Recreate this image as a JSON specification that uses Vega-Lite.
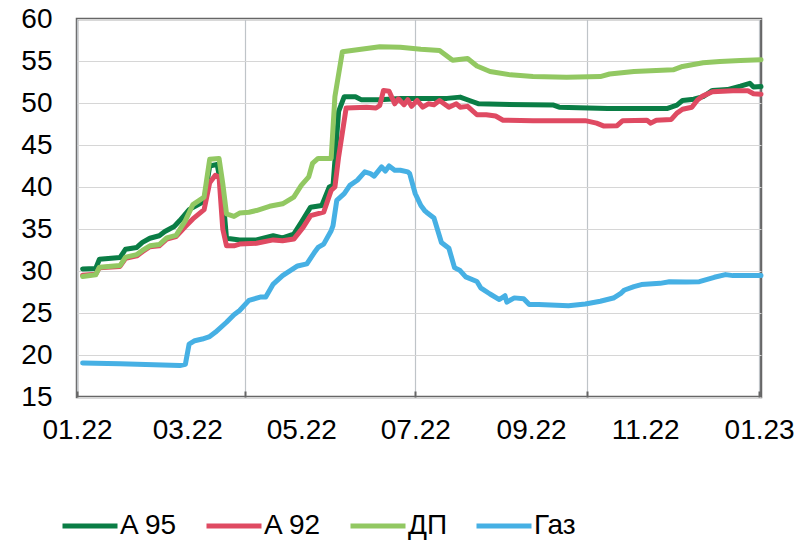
{
  "$schema": "https://vega.github.io/schema/vega-lite/v6.json",
  "autosize": "none",
  "width": 684,
  "height": 378,
  "padding": {"left": 77, "top": 19, "right": 50, "bottom": 143},
  "background": "white",
  "config": {
    "view": {"stroke": "#666666", "strokeWidth": 2.5},
    "font": "Liberation Sans",
    "axis": {"labelFont": "Liberation Sans", "labelFontSize": 28, "labelColor": "#000000", "domain": false, "title": null}
  },
  "data": {"values": [
    {"d":"2022-01-04","s":"A 95","v":30.25},{"d":"2022-01-11","s":"A 95","v":30.3},{"d":"2022-01-13","s":"A 95","v":31.4},{"d":"2022-01-24","s":"A 95","v":31.6},{"d":"2022-01-27","s":"A 95","v":32.6},{"d":"2022-02-02","s":"A 95","v":32.8},{"d":"2022-02-05","s":"A 95","v":33.4},{"d":"2022-02-09","s":"A 95","v":33.9},{"d":"2022-02-14","s":"A 95","v":34.2},{"d":"2022-02-17","s":"A 95","v":34.7},{"d":"2022-02-22","s":"A 95","v":35.3},{"d":"2022-02-25","s":"A 95","v":36.0},{"d":"2022-03-02","s":"A 95","v":37.3},{"d":"2022-03-10","s":"A 95","v":38.3},{"d":"2022-03-13","s":"A 95","v":42.5},{"d":"2022-03-17","s":"A 95","v":42.7},{"d":"2022-03-20","s":"A 95","v":39.0},{"d":"2022-03-22","s":"A 95","v":33.9},{"d":"2022-03-29","s":"A 95","v":33.7},{"d":"2022-04-07","s":"A 95","v":33.7},{"d":"2022-04-16","s":"A 95","v":34.2},{"d":"2022-04-21","s":"A 95","v":33.95},{"d":"2022-04-27","s":"A 95","v":34.4},{"d":"2022-05-01","s":"A 95","v":35.8},{"d":"2022-05-06","s":"A 95","v":37.6},{"d":"2022-05-12","s":"A 95","v":37.8},{"d":"2022-05-16","s":"A 95","v":40.0},{"d":"2022-05-18","s":"A 95","v":40.2},{"d":"2022-05-21","s":"A 95","v":49.0},{"d":"2022-05-24","s":"A 95","v":50.75},{"d":"2022-05-30","s":"A 95","v":50.75},{"d":"2022-06-02","s":"A 95","v":50.4},{"d":"2022-06-12","s":"A 95","v":50.4},{"d":"2022-06-23","s":"A 95","v":50.55},{"d":"2022-07-18","s":"A 95","v":50.55},{"d":"2022-07-25","s":"A 95","v":50.7},{"d":"2022-07-30","s":"A 95","v":50.3},{"d":"2022-08-04","s":"A 95","v":49.9},{"d":"2022-08-15","s":"A 95","v":49.85},{"d":"2022-09-13","s":"A 95","v":49.75},{"d":"2022-09-16","s":"A 95","v":49.5},{"d":"2022-10-12","s":"A 95","v":49.35},{"d":"2022-11-13","s":"A 95","v":49.35},{"d":"2022-11-18","s":"A 95","v":49.75},{"d":"2022-11-21","s":"A 95","v":50.3},{"d":"2022-11-27","s":"A 95","v":50.45},{"d":"2022-12-02","s":"A 95","v":50.75},{"d":"2022-12-07","s":"A 95","v":51.5},{"d":"2022-12-15","s":"A 95","v":51.6},{"d":"2022-12-22","s":"A 95","v":52.0},{"d":"2022-12-27","s":"A 95","v":52.35},{"d":"2022-12-29","s":"A 95","v":51.9},{"d":"2023-01-02","s":"A 95","v":51.95},
    {"d":"2022-01-04","s":"A 92","v":29.5},{"d":"2022-01-11","s":"A 92","v":29.6},{"d":"2022-01-13","s":"A 92","v":30.4},{"d":"2022-01-24","s":"A 92","v":30.55},{"d":"2022-01-27","s":"A 92","v":31.5},{"d":"2022-02-02","s":"A 92","v":31.8},{"d":"2022-02-05","s":"A 92","v":32.3},{"d":"2022-02-09","s":"A 92","v":32.9},{"d":"2022-02-14","s":"A 92","v":33.0},{"d":"2022-02-18","s":"A 92","v":33.8},{"d":"2022-02-23","s":"A 92","v":34.1},{"d":"2022-02-28","s":"A 92","v":35.3},{"d":"2022-03-04","s":"A 92","v":36.2},{"d":"2022-03-10","s":"A 92","v":37.3},{"d":"2022-03-13","s":"A 92","v":40.5},{"d":"2022-03-16","s":"A 92","v":41.4},{"d":"2022-03-18","s":"A 92","v":41.2},{"d":"2022-03-20","s":"A 92","v":35.0},{"d":"2022-03-22","s":"A 92","v":33.0},{"d":"2022-03-26","s":"A 92","v":33.0},{"d":"2022-03-29","s":"A 92","v":33.2},{"d":"2022-04-07","s":"A 92","v":33.3},{"d":"2022-04-16","s":"A 92","v":33.7},{"d":"2022-04-21","s":"A 92","v":33.6},{"d":"2022-04-27","s":"A 92","v":33.8},{"d":"2022-05-02","s":"A 92","v":35.2},{"d":"2022-05-06","s":"A 92","v":36.6},{"d":"2022-05-13","s":"A 92","v":37.0},{"d":"2022-05-17","s":"A 92","v":39.6},{"d":"2022-05-19","s":"A 92","v":40.0},{"d":"2022-05-21","s":"A 92","v":43.6},{"d":"2022-05-25","s":"A 92","v":49.4},{"d":"2022-06-05","s":"A 92","v":49.5},{"d":"2022-06-10","s":"A 92","v":49.4},{"d":"2022-06-12","s":"A 92","v":49.7},{"d":"2022-06-14","s":"A 92","v":51.5},{"d":"2022-06-17","s":"A 92","v":51.4},{"d":"2022-06-20","s":"A 92","v":49.9},{"d":"2022-06-22","s":"A 92","v":50.5},{"d":"2022-06-25","s":"A 92","v":49.8},{"d":"2022-06-27","s":"A 92","v":50.4},{"d":"2022-06-29","s":"A 92","v":49.6},{"d":"2022-07-02","s":"A 92","v":50.3},{"d":"2022-07-05","s":"A 92","v":49.5},{"d":"2022-07-08","s":"A 92","v":49.9},{"d":"2022-07-11","s":"A 92","v":49.8},{"d":"2022-07-14","s":"A 92","v":50.3},{"d":"2022-07-19","s":"A 92","v":49.5},{"d":"2022-07-23","s":"A 92","v":49.9},{"d":"2022-07-25","s":"A 92","v":49.5},{"d":"2022-07-29","s":"A 92","v":49.6},{"d":"2022-08-03","s":"A 92","v":48.6},{"d":"2022-08-08","s":"A 92","v":48.6},{"d":"2022-08-13","s":"A 92","v":48.45},{"d":"2022-08-17","s":"A 92","v":47.95},{"d":"2022-09-02","s":"A 92","v":47.9},{"d":"2022-09-30","s":"A 92","v":47.9},{"d":"2022-10-06","s":"A 92","v":47.6},{"d":"2022-10-10","s":"A 92","v":47.25},{"d":"2022-10-17","s":"A 92","v":47.3},{"d":"2022-10-20","s":"A 92","v":47.9},{"d":"2022-11-02","s":"A 92","v":47.95},{"d":"2022-11-04","s":"A 92","v":47.6},{"d":"2022-11-07","s":"A 92","v":47.95},{"d":"2022-11-15","s":"A 92","v":48.05},{"d":"2022-11-18","s":"A 92","v":48.8},{"d":"2022-11-21","s":"A 92","v":49.25},{"d":"2022-11-26","s":"A 92","v":49.5},{"d":"2022-11-29","s":"A 92","v":50.35},{"d":"2022-12-02","s":"A 92","v":50.85},{"d":"2022-12-07","s":"A 92","v":51.35},{"d":"2022-12-18","s":"A 92","v":51.45},{"d":"2022-12-26","s":"A 92","v":51.45},{"d":"2022-12-29","s":"A 92","v":51.1},{"d":"2023-01-02","s":"A 92","v":51.05},
    {"d":"2022-01-04","s":"ДП","v":29.35},{"d":"2022-01-11","s":"ДП","v":29.55},{"d":"2022-01-13","s":"ДП","v":30.45},{"d":"2022-01-24","s":"ДП","v":30.65},{"d":"2022-01-27","s":"ДП","v":31.65},{"d":"2022-02-02","s":"ДП","v":31.95},{"d":"2022-02-05","s":"ДП","v":32.45},{"d":"2022-02-09","s":"ДП","v":33.0},{"d":"2022-02-14","s":"ДП","v":33.15},{"d":"2022-02-18","s":"ДП","v":33.95},{"d":"2022-02-23","s":"ДП","v":34.25},{"d":"2022-02-28","s":"ДП","v":36.0},{"d":"2022-03-04","s":"ДП","v":37.9},{"d":"2022-03-10","s":"ДП","v":38.8},{"d":"2022-03-13","s":"ДП","v":43.3},{"d":"2022-03-18","s":"ДП","v":43.4},{"d":"2022-03-20","s":"ДП","v":40.4},{"d":"2022-03-22","s":"ДП","v":36.8},{"d":"2022-03-26","s":"ДП","v":36.5},{"d":"2022-03-29","s":"ДП","v":36.9},{"d":"2022-04-03","s":"ДП","v":37.0},{"d":"2022-04-07","s":"ДП","v":37.2},{"d":"2022-04-14","s":"ДП","v":37.7},{"d":"2022-04-21","s":"ДП","v":38.0},{"d":"2022-04-27","s":"ДП","v":38.8},{"d":"2022-05-01","s":"ДП","v":40.2},{"d":"2022-05-05","s":"ДП","v":41.2},{"d":"2022-05-07","s":"ДП","v":42.8},{"d":"2022-05-10","s":"ДП","v":43.4},{"d":"2022-05-17","s":"ДП","v":43.4},{"d":"2022-05-19","s":"ДП","v":50.75},{"d":"2022-05-23","s":"ДП","v":56.1},{"d":"2022-06-02","s":"ДП","v":56.4},{"d":"2022-06-12","s":"ДП","v":56.7},{"d":"2022-06-23","s":"ДП","v":56.65},{"d":"2022-07-04","s":"ДП","v":56.4},{"d":"2022-07-14","s":"ДП","v":56.25},{"d":"2022-07-21","s":"ДП","v":55.1},{"d":"2022-07-29","s":"ДП","v":55.3},{"d":"2022-08-03","s":"ДП","v":54.4},{"d":"2022-08-10","s":"ДП","v":53.75},{"d":"2022-08-21","s":"ДП","v":53.35},{"d":"2022-09-02","s":"ДП","v":53.15},{"d":"2022-09-20","s":"ДП","v":53.07},{"d":"2022-10-08","s":"ДП","v":53.15},{"d":"2022-10-13","s":"ДП","v":53.45},{"d":"2022-10-26","s":"ДП","v":53.75},{"d":"2022-11-16","s":"ДП","v":53.95},{"d":"2022-11-21","s":"ДП","v":54.35},{"d":"2022-12-02","s":"ДП","v":54.8},{"d":"2022-12-11","s":"ДП","v":54.95},{"d":"2022-12-22","s":"ДП","v":55.05},{"d":"2023-01-02","s":"ДП","v":55.15},
    {"d":"2022-01-04","s":"Газ","v":19.05},{"d":"2022-01-24","s":"Газ","v":18.95},{"d":"2022-02-25","s":"Газ","v":18.75},{"d":"2022-02-28","s":"Газ","v":18.9},{"d":"2022-03-02","s":"Газ","v":21.3},{"d":"2022-03-05","s":"Газ","v":21.7},{"d":"2022-03-09","s":"Газ","v":21.9},{"d":"2022-03-13","s":"Газ","v":22.2},{"d":"2022-03-16","s":"Газ","v":22.7},{"d":"2022-03-22","s":"Газ","v":23.9},{"d":"2022-03-26","s":"Газ","v":24.8},{"d":"2022-03-29","s":"Газ","v":25.3},{"d":"2022-04-03","s":"Газ","v":26.5},{"d":"2022-04-09","s":"Газ","v":26.9},{"d":"2022-04-12","s":"Газ","v":26.9},{"d":"2022-04-16","s":"Газ","v":28.45},{"d":"2022-04-21","s":"Газ","v":29.45},{"d":"2022-04-29","s":"Газ","v":30.6},{"d":"2022-05-04","s":"Газ","v":30.85},{"d":"2022-05-08","s":"Газ","v":32.2},{"d":"2022-05-10","s":"Газ","v":32.8},{"d":"2022-05-13","s":"Газ","v":33.2},{"d":"2022-05-17","s":"Газ","v":34.8},{"d":"2022-05-18","s":"Газ","v":35.4},{"d":"2022-05-20","s":"Газ","v":38.4},{"d":"2022-05-24","s":"Газ","v":39.2},{"d":"2022-05-27","s":"Газ","v":40.2},{"d":"2022-05-31","s":"Газ","v":40.8},{"d":"2022-06-04","s":"Газ","v":41.8},{"d":"2022-06-07","s":"Газ","v":41.6},{"d":"2022-06-09","s":"Газ","v":41.3},{"d":"2022-06-13","s":"Газ","v":42.4},{"d":"2022-06-15","s":"Газ","v":41.9},{"d":"2022-06-17","s":"Газ","v":42.5},{"d":"2022-06-20","s":"Газ","v":42.0},{"d":"2022-06-23","s":"Газ","v":42.0},{"d":"2022-06-27","s":"Газ","v":41.8},{"d":"2022-06-28","s":"Газ","v":41.6},{"d":"2022-07-01","s":"Газ","v":39.2},{"d":"2022-07-04","s":"Газ","v":37.8},{"d":"2022-07-06","s":"Газ","v":37.2},{"d":"2022-07-07","s":"Газ","v":37.0},{"d":"2022-07-11","s":"Газ","v":36.3},{"d":"2022-07-15","s":"Газ","v":33.4},{"d":"2022-07-19","s":"Газ","v":32.7},{"d":"2022-07-22","s":"Газ","v":30.4},{"d":"2022-07-25","s":"Газ","v":30.05},{"d":"2022-07-28","s":"Газ","v":29.3},{"d":"2022-08-03","s":"Газ","v":28.75},{"d":"2022-08-05","s":"Газ","v":28.0},{"d":"2022-08-10","s":"Газ","v":27.26},{"d":"2022-08-15","s":"Газ","v":26.6},{"d":"2022-08-18","s":"Газ","v":27.06},{"d":"2022-08-19","s":"Газ","v":26.3},{"d":"2022-08-23","s":"Газ","v":26.8},{"d":"2022-08-28","s":"Газ","v":26.7},{"d":"2022-08-31","s":"Газ","v":26.0},{"d":"2022-09-05","s":"Газ","v":26.0},{"d":"2022-09-21","s":"Газ","v":25.87},{"d":"2022-09-30","s":"Газ","v":26.07},{"d":"2022-10-08","s":"Газ","v":26.4},{"d":"2022-10-15","s":"Газ","v":26.78},{"d":"2022-10-19","s":"Газ","v":27.34},{"d":"2022-10-21","s":"Газ","v":27.74},{"d":"2022-10-26","s":"Газ","v":28.14},{"d":"2022-10-30","s":"Газ","v":28.38},{"d":"2022-11-09","s":"Газ","v":28.53},{"d":"2022-11-14","s":"Газ","v":28.73},{"d":"2022-11-23","s":"Газ","v":28.7},{"d":"2022-11-30","s":"Газ","v":28.73},{"d":"2022-12-08","s":"Газ","v":29.25},{"d":"2022-12-14","s":"Газ","v":29.57},{"d":"2022-12-18","s":"Газ","v":29.45},{"d":"2023-01-02","s":"Газ","v":29.45}
  ]},
  "mark": {"type": "line", "strokeWidth": 5, "strokeCap": "round", "strokeJoin": "round"},
  "encoding": {
    "x": {
      "field": "d", "type": "temporal",
      "scale": {"type": "utc", "domain": [{"year": 2022, "month": 1, "date": 1, "utc": true}, {"year": 2023, "month": 1, "date": 2, "utc": true}], "nice": false},
      "axis": {
        "values": [
          {"year": 2022, "month": 1, "date": 1, "utc": true},
          {"year": 2022, "month": 3, "date": 1, "utc": true},
          {"year": 2022, "month": 4, "date": 1, "utc": true},
          {"year": 2022, "month": 5, "date": 1, "utc": true},
          {"year": 2022, "month": 7, "date": 1, "utc": true},
          {"year": 2022, "month": 9, "date": 1, "utc": true},
          {"year": 2022, "month": 10, "date": 1, "utc": true},
          {"year": 2022, "month": 11, "date": 1, "utc": true},
          {"year": 2023, "month": 1, "date": 1, "utc": true}
        ],
        "labelExpr": "utcmonth(datum.value) % 2 == 0 ? utcFormat(datum.value, '%m.%y') : ''",
        "labelFlush": false,
        "labelOverlap": false,
        "labelPadding": 25,
        "grid": true,
        "gridColor": "#BFC4C8",
        "gridWidth": 1.2,
        "gridOpacity": {"condition": {"test": "utcmonth(datum.value) % 3 == 0", "value": 1}, "value": 0},
        "ticks": true,
        "tickSize": -6,
        "tickColor": "#666666",
        "tickWidth": 2,
        "tickOpacity": {"condition": {"test": "utcmonth(datum.value) % 3 == 0", "value": 1}, "value": 0}
      }
    },
    "y": {
      "field": "v", "type": "quantitative",
      "scale": {"domain": [15, 60], "nice": false, "zero": false},
      "axis": {"values": [15, 20, 25, 30, 35, 40, 45, 50, 55, 60], "ticks": false, "labelPadding": 25, "gridColor": "#D6D6D6", "gridWidth": 1.2, "labelFlush": false}
    },
    "color": {
      "field": "s", "type": "nominal",
      "scale": {"domain": ["A 95", "A 92", "ДП", "Газ"], "range": ["#0A7D45", "#DF4A62", "#92C862", "#46B0E4"]},
      "legend": {
        "title": null,
        "orient": "none",
        "direction": "horizontal",
        "legendX": -17,
        "legendY": 477,
        "padding": 0,
        "symbolType": "stroke",
        "symbolSize": 3025,
        "symbolStrokeWidth": 5,
        "labelFont": "Liberation Sans",
        "labelFontSize": 28,
        "labelColor": "#000000",
        "labelOffset": 0,
        "columnPadding": 18
      }
    }
  }
}
